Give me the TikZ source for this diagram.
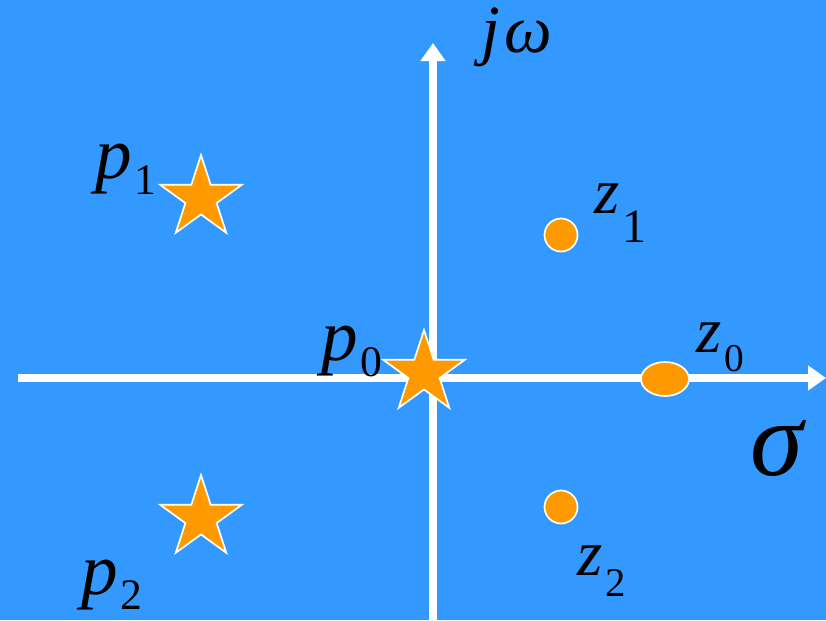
\documentclass[tikz,border=0pt]{standalone}
\usepackage{fontspec}
\setmainfont{Liberation Serif}
\usepackage{xcolor}
\usetikzlibrary{arrows.meta, shapes.geometric}

\definecolor{planeblue}{RGB}{51,153,255}
\definecolor{rootorange}{RGB}{255,153,0}

% letter with a lowered upright index
\newcommand{\sublbl}[4]{#1\kern2pt\raisebox{-#4}{\fontsize{#3}{#3}\selectfont\upshape #2}}

\begin{document}
\begin{tikzpicture}[x=0.025cm, y=-0.025cm,
  axis/.style={white, line width=5.7pt, -{Triangle[length=0.45cm, width=0.6cm]}},
  pole/.style={star, star points=5, star point ratio=2.618, minimum size=2.15cm,
    inner sep=0pt, draw=white, fill=rootorange, line width=1.2pt},
  zero/.style={circle, minimum size=0.825cm, inner sep=0pt, draw=white,
    fill=rootorange, line width=1.2pt},
  plbl/.style={anchor=base west, inner sep=0pt, font=\fontsize{52}{52}\selectfont\itshape},
  zlbl/.style={anchor=base west, inner sep=0pt, font=\fontsize{46}{46}\selectfont\itshape}]
  \useasboundingbox (0,0) rectangle (826,620);
  \fill[planeblue] (0,0) rectangle (826,620);

  % Axes
  \coordinate (xl) at (18,378);
  \coordinate (xr) at (826,378);
  \coordinate (yb) at (433,620);
  \coordinate (yt) at (433,43);
  \draw[axis] (xl) -- (xr);
  \draw[axis] (yb) -- (yt);
  \node[zlbl, font=\fontsize{48}{48}\selectfont\itshape] (jw) at (481,52) {j\kern3pt ω};
  \node[anchor=base west, inner sep=0pt, font=\fontsize{76}{76}\selectfont\itshape]
    (sigma) at (750,475) {σ};

  % Poles
  \node[pole] (p0) at (424,373) {};
  \node[pole] (p1) at (201,198) {};
  \node[pole] (p2) at (201,518) {};
  \node[plbl] (lp0) at (321,360) {\sublbl{p}{0}{31}{12pt}};
  \node[plbl] (lp1) at (95,178) {\sublbl{p}{1}{31}{12pt}};
  \node[plbl] (lp2) at (81,594) {\sublbl{p}{2}{31}{11pt}};

  % Zeros
  \node[zero] (z1) at (561,235) {};
  \node[zero] (z2) at (561,507) {};
  \node[ellipse, minimum width=1.2cm, minimum height=0.85cm, inner sep=0pt,
    draw=white, fill=rootorange, line width=1.2pt] (z0) at (665,379) {};
  \node[zlbl] (lz1) at (594,213) {\sublbl{z}{1}{34}{21pt}};
  \node[zlbl] (lz0) at (696,352) {\sublbl{z}{0}{28}{14pt}};
  \node[zlbl] (lz2) at (577,575) {\sublbl{z}{2}{29}{15.5pt}};
\end{tikzpicture}
\end{document}
